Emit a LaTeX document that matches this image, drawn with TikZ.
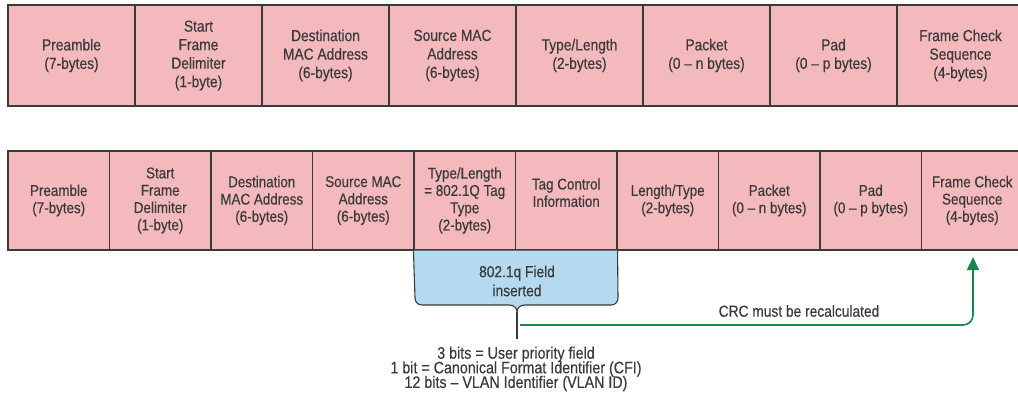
\documentclass[tikz,border=0pt]{standalone}
\usepackage{fontspec}
\setmainfont{Liberation Sans}[FakeStretch=0.86,FakeBold=0.3]
\usetikzlibrary{arrows.meta}
\definecolor{cellfill}{HTML}{F4B9BC}
\definecolor{fieldfill}{HTML}{B5DAF0}
\definecolor{edgec}{HTML}{3A3A3A}
\definecolor{txt}{HTML}{3A3A3A}
\definecolor{crc}{HTML}{15884A}
\newcommand\mytightlines{\lineskiplimit=-8pt\relax\lineskip=0pt\relax}
\begin{document}
\begin{tikzpicture}[x=1pt,y=-1pt,
  topcell/.style={draw=edgec, fill=cellfill, line width=1.1pt, minimum width=127pt, minimum height=101pt,
    inner sep=0pt, align=center, text=txt, font=\fontsize{16}{18.5}\selectfont},
  botcell/.style={draw=edgec, fill=cellfill, line width=1.1pt, minimum width=101.5pt, minimum height=99pt,
    inner sep=0pt, align=center, text=txt, font=\fontsize{15.6}{17.3}\selectfont},
  lbl/.style={text=txt, align=center, inner sep=0pt},
  fieldshape/.style={draw=edgec, fill=fieldfill, line width=1.1pt},
  crcline/.style={draw=crc, line width=1.6pt, rounded corners=10pt, -{Triangle[width=12pt,length=13pt]}}]
\useasboundingbox (0,0) rectangle (1018,399);
\clip (0,0) rectangle (1018,399);
\fill[white] (0,0) rectangle (1018,399);
% top frame
\node[topcell] (t1) at (71.5,55.5) {Preamble\\(7-bytes)};
\node[topcell] (t2) at (198.5,55.5) {Start\\Frame\\Delimiter\\(1-byte)};
\node[topcell] (t3) at (325.5,55.5) {Destination\\MAC Address\\(6-bytes)};
\node[topcell] (t4) at (452.5,55.5) {Source MAC\\Address\\(6-bytes)};
\node[topcell] (t5) at (579.5,55.5) {Type/Length\\(2-bytes)};
\node[topcell] (t6) at (706.5,55.5) {Packet\\(0 – n bytes)};
\node[topcell] (t7) at (833.5,55.5) {Pad\\(0 – p bytes)};
\node[topcell] (t8) at (960.5,55.5) {Frame Check\\Sequence\\(4-bytes)};
% bottom frame
\node[botcell] (b1) at (58.75,200.5) {Preamble\\(7-bytes)};
\node[botcell] (b2) at (160.25,200.5) {Start\\Frame\\Delimiter\\(1-byte)};
\node[botcell] (b3) at (261.75,200.5) {Destination\\MAC Address\\(6-bytes)};
\node[botcell] (b4) at (363.25,200.5) {Source MAC\\Address\\(6-bytes)};
\node[botcell] (b5) at (464.75,200.5) {Type/Length\\= 802.1Q Tag\\Type\\(2-bytes)};
\node[botcell, text depth=16pt] (b6) at (566.25,200.5) {Tag Control\\Information};
\node[botcell] (b7) at (667.75,200.5) {Length/Type\\(2-bytes)};
\node[botcell] (b8) at (769.25,200.5) {Packet\\(0 – n bytes)};
\node[botcell] (b9) at (870.75,200.5) {Pad\\(0 – p bytes)};
\node[botcell] (b10) at (972.25,200.5) {Frame Check\\Sequence\\(4-bytes)};
% inserted field
\coordinate (tip) at (517,312);
\coordinate (stemend) at (517,339);
\path[fieldshape] (b5.south west) -- (415,298) .. controls (415,302) and (418,305) .. (422,305)
  -- (509,305) .. controls (514,305) and (517,308) .. (tip)
  .. controls (517,308) and (520,305) .. (525,305)
  -- (611,305) .. controls (615,305) and (618,302) .. (618,298) -- (b6.south east);
\node[lbl, font=\fontsize{16}{19}\selectfont] (fld) at (517,281) {802.1q Field\\inserted};
\draw[draw=edgec, line width=1.1pt] (tip) -- (stemend);
\node[lbl, font=\fontsize{16.6}{14.6}\selectfont\mytightlines] (bits) at (516,369)
  {3 bits = User priority field\\1 bit = Canonical Format Identifier (CFI)\\12 bits – VLAN Identifier (VLAN ID)};
% CRC arrow
\coordinate (gstart) at (520,325);
\coordinate (gend) at (973,257);
\draw[crcline] (gstart) -| (gend);
\node[lbl, font=\fontsize{16}{19}\selectfont] (crclbl) at (799,311) {CRC must be recalculated};
\end{tikzpicture}
\end{document}
